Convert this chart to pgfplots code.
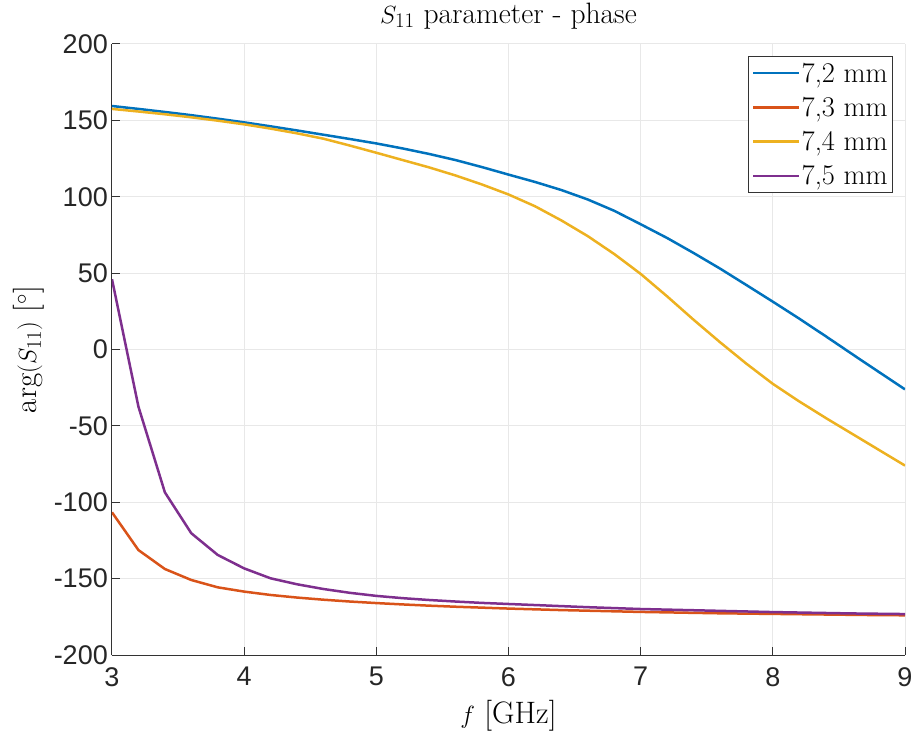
\documentclass[border=0pt]{standalone}
\usepackage{fontspec}
\usepackage{pgfplots}
\usepackage{pgfplotstable}
\pgfplotsset{compat=1.18}
\newfontfamily\hel{Liberation Sans}
\definecolor{mblue}{rgb}{0,0.447,0.741}
\definecolor{morange}{rgb}{0.850,0.325,0.098}
\definecolor{myellow}{rgb}{0.929,0.694,0.125}
\definecolor{mpurple}{rgb}{0.494,0.184,0.556}

\pgfplotstableread{
f a b c d
3.0 159.4 -106.6 157.5 46.0
3.2 157.5 -131.3 155.8 -37.4
3.4 155.5 -143.7 154.0 -93.5
3.6 153.4 -150.9 152.0 -120.3
3.8 151.1 -155.7 149.8 -134.5
4.0 148.7 -158.5 147.4 -143.3
4.2 146.1 -160.7 144.6 -149.8
4.4 143.4 -162.4 141.5 -153.7
4.6 140.6 -163.8 138.0 -156.8
4.8 137.8 -165.0 133.5 -159.3
5.0 134.9 -166.0 128.8 -161.3
5.2 131.6 -166.9 124.0 -162.8
5.4 128.0 -167.7 119.2 -164.0
5.6 124.0 -168.4 113.9 -165.0
5.8 119.4 -169.0 108.0 -165.9
6.0 114.5 -169.6 101.5 -166.6
6.2 109.7 -170.1 93.8 -167.3
6.4 104.4 -170.6 84.5 -168.0
6.6 98.2 -171.0 74.2 -168.7
6.8 90.8 -171.4 62.5 -169.3
7.0 82.0 -171.8 49.5 -169.9
7.2 73.0 -172.1 34.8 -170.3
7.4 63.2 -172.4 19.5 -170.7
7.6 53.0 -172.7 4.8 -171.1
7.8 42.2 -172.9 -9.3 -171.5
8.0 31.3 -173.1 -22.5 -171.9
8.2 20.2 -173.3 -34.0 -172.2
8.4 8.7 -173.5 -44.8 -172.5
8.6 -3.0 -173.7 -55.2 -172.8
8.8 -14.6 -173.9 -65.6 -173.0
9.0 -26.1 -174.0 -76.0 -173.2
}\data

\begin{document}
\begin{tikzpicture}
\begin{axis}[name=ax,
  width=793pt, height=611pt, scale only axis,
  xmin=3, xmax=9, ymin=-200, ymax=200,
  xtick={3,4,5,6,7,8,9}, ytick={-200,-150,-100,-50,0,50,100,150,200},
  xticklabels={3,4,5,6,7,8,9},
  yticklabels={-200,-150,-100,-50,0,50,100,150,200},
  tick label style={font=\hel\fontsize{27}{27}\selectfont, text=black!85, inner sep=0pt},
  xticklabel style={yshift=-12pt},
  yticklabel style={xshift=-4pt},
  grid=major, major grid style={draw=black!9, line width=1pt},
  axis x line*=bottom, axis y line*=left,
  axis line style={draw=black!80, line width=1pt, -},
  tick style={draw=black!80, line width=1pt},
  tick align=inside, major tick length=8pt,
  title={$S_{11}$ parameter - phase},
  title style={font=\fontsize{29.5}{33}\selectfont, at={(axis description cs:0.5,1.0245)}, anchor=base},
  xlabel={$f$ [GHz]},
  ylabel={$\arg(S_{11})$ [$^\circ$]},
  xlabel style={font=\fontsize{31}{34}\selectfont, at={(axis description cs:0.5,-0.1113)}, anchor=base},
  ylabel style={font=\fontsize{31}{34}\selectfont, at={(axis description cs:-0.0958,0.5)}, anchor=base},
  legend style={at={(0.985,0.980)}, anchor=north east, draw=black!80, line width=1pt,
    font=\fontsize{28.5}{33}\selectfont, cells={anchor=west}, inner xsep=4pt, inner ysep=5pt,
    row sep=11.5pt, nodes={inner xsep=1pt, inner ysep=1pt}},
  legend image code/.code={\draw[#1, line width=2.5pt] (0pt,0pt) -- (46pt,0pt);},
  every axis plot/.append style={line width=2.5pt},
]
\addplot[mblue] table[x=f,y=a]{\data};
\addlegendentry{7,2 mm}
\addplot[morange] table[x=f,y=b]{\data};
\addlegendentry{7,3 mm}
\addplot[myellow] table[x=f,y=c]{\data};
\addlegendentry{7,4 mm}
\addplot[mpurple] table[x=f,y=d]{\data};
\addlegendentry{7,5 mm}
\end{axis}
\pgfresetboundingbox
\path ([shift={(-112pt,-78pt)}]ax.south west) rectangle ([shift={(7pt,44pt)}]ax.north east);
\end{tikzpicture}
\end{document}
